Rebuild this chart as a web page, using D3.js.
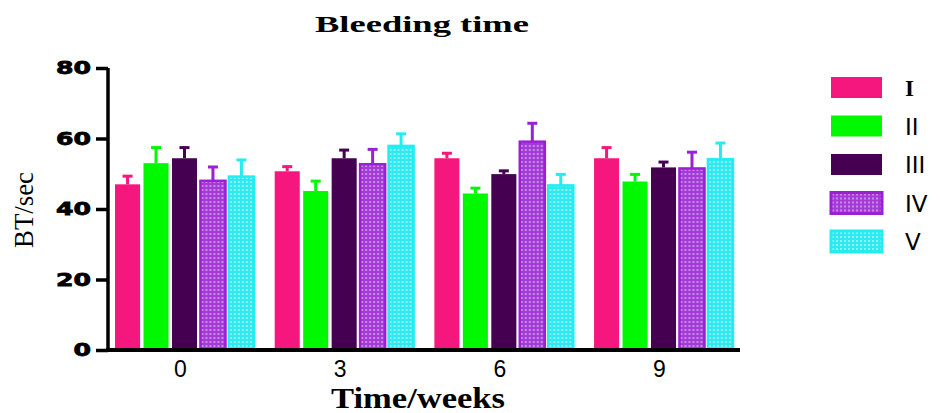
<!DOCTYPE html>
<html>
<head>
<meta charset="utf-8">
<script src="https://d3js.org/d3.v7.min.js"></script>
<style>
  body { margin: 0; background: #fff; }
  svg { display: block; }
</style>
</head>
<body>
<svg width="940" height="413"></svg>
<script>
// data
var weeks = ["0", "3", "6", "9"];
var groups = ["I", "II", "III", "IV", "V"];
var means = {
  "I":   [47.0, 50.7, 54.4, 54.4],
  "II":  [53.0, 45.1, 44.4, 47.8],
  "III": [54.4, 54.4, 49.9, 51.8],
  "IV":  [48.0, 52.7, 59.1, 51.5],
  "V":   [49.2, 57.9, 46.7, 54.1]
};
var errs = {
  "I":   [2.6, 1.6, 1.7, 3.3],
  "II":  [4.7, 3.1, 1.8, 2.3],
  "III": [3.3, 2.6, 1.2, 1.8],
  "IV":  [4.2, 4.5, 5.5, 4.9],
  "V":   [5.0, 3.7, 3.4, 4.9]
};
var yTicks = [0, 20, 40, 60, 80];

var colors = { "I": "#f5177e", "II": "#00f800", "III": "#450052", "IV": "#9c1fd6", "V": "#22eef2" };
var fills = { "I": "#f5177e", "II": "#00f800", "III": "#450052", "IV": "url(#patIV)", "V": "url(#patV)" };

var svg = d3.select("svg");
var defs = svg.append("defs");

function dotPattern(id, base, dot) {
  var p = defs.append("pattern").attr("id", id)
    .attr("patternUnits", "userSpaceOnUse").attr("width", 4).attr("height", 4);
  p.append("rect").attr("width", 4).attr("height", 4).attr("fill", base);
  p.append("rect").attr("x", 1).attr("y", 1).attr("width", 2).attr("height", 2).attr("fill", dot);
}
dotPattern("patIV", "#a43ad8", "#c98ce6");
dotPattern("patV", "#2eeaf0", "#8ef2f6");

var y = d3.scaleLinear().domain([0, 80]).range([350, 68]);
var x0 = d3.scaleBand().domain(weeks).range([108, 740]).paddingInner(0.13).paddingOuter(0.044);
var x1 = d3.scaleBand().domain(groups).range([0, x0.bandwidth()]).paddingInner(0.12);

// bars
var rows = [];
weeks.forEach(function (w, i) {
  groups.forEach(function (g) {
    rows.push({ week: w, group: g, v: means[g][i], e: errs[g][i] });
  });
});

var bar = svg.append("g").selectAll("g").data(rows).join("g")
  .attr("transform", function (d) { return "translate(" + (x0(d.week) + x1(d.group)) + ",0)"; });

// error bars (upper only)
var bw = x1.bandwidth();
bar.append("line")
  .attr("x1", bw / 2).attr("x2", bw / 2)
  .attr("y1", function (d) { return y(d.v); })
  .attr("y2", function (d) { return y(d.v + d.e); })
  .attr("stroke", function (d) { return colors[d.group]; })
  .attr("stroke-width", 3);
bar.append("line")
  .attr("x1", bw / 2 - 5).attr("x2", bw / 2 + 5)
  .attr("y1", function (d) { return y(d.v + d.e) + 1; })
  .attr("y2", function (d) { return y(d.v + d.e) + 1; })
  .attr("stroke", function (d) { return colors[d.group]; })
  .attr("stroke-width", 3);

bar.append("rect")
  .attr("x", 0).attr("width", bw)
  .attr("y", function (d) { return y(d.v); })
  .attr("height", function (d) { return y(0) - y(d.v); })
  .attr("fill", function (d) { return fills[d.group]; })
  .attr("stroke", function (d) { return (d.group == "IV" || d.group == "V") ? colors[d.group] : "none"; })
  .attr("stroke-width", 2.5);

// y axis
var yAxis = svg.append("g").attr("transform", "translate(108,0)")
  .call(d3.axisLeft(y).tickValues(yTicks).tickSize(12).tickPadding(5));
yAxis.select(".domain").attr("stroke-width", 3.5).attr("d", "M0," + y(80) + "V" + (y(0) + 2));
yAxis.selectAll(".tick line").attr("stroke-width", 3.5);
yAxis.selectAll(".tick text")
  .attr("font-family", "'DejaVu Sans', sans-serif").attr("font-weight", "bold")
  .attr("font-size", 18).attr("fill", "#000")
  .attr("stroke", "#000").attr("stroke-width", 0.8)
  .attr("textLength", function (d) { return String(d).length * 17.5; })
  .attr("lengthAdjust", "spacingAndGlyphs");

// x axis
var xAxis = svg.append("g").attr("transform", "translate(0,350)")
  .call(d3.axisBottom(x0).tickSize(0).tickPadding(11));
xAxis.select(".domain").attr("stroke-width", 4).attr("d", "M106,0H740");
xAxis.selectAll(".tick text")
  .attr("font-family", "'Liberation Sans', Arial, sans-serif")
  .attr("font-size", 23).attr("fill", "#000")
  .attr("dx", -4);

// title and axis labels
svg.append("text").attr("x", 422).attr("y", 32).attr("text-anchor", "middle")
  .attr("font-family", "'Liberation Serif', 'Times New Roman', serif").attr("font-weight", "bold")
  .attr("font-size", 23).attr("textLength", 214).attr("lengthAdjust", "spacingAndGlyphs")
  .text("Bleeding time");

svg.append("text").attr("x", 418).attr("y", 408).attr("text-anchor", "middle")
  .attr("font-family", "'Liberation Serif', 'Times New Roman', serif").attr("font-weight", "bold")
  .attr("font-size", 29).attr("textLength", 174).attr("lengthAdjust", "spacingAndGlyphs")
  .text("Time/weeks");

svg.append("text").attr("transform", "translate(33,210) rotate(-90)").attr("text-anchor", "middle")
  .attr("font-family", "'Liberation Serif', 'Times New Roman', serif")
  .attr("font-size", 27).attr("textLength", 76).attr("lengthAdjust", "spacingAndGlyphs")
  .text("BT/sec");

// legend
var legend = svg.append("g").selectAll("g").data(groups).join("g")
  .attr("transform", function (d, i) { return "translate(831," + (77 + i * 38.5) + ")"; });
legend.append("rect")
  .attr("width", 51).attr("height", 21)
  .attr("fill", function (d) { return fills[d]; })
  .attr("stroke", function (d) { return (d == "IV" || d == "V") ? colors[d] : "none"; })
  .attr("stroke-width", 3);
legend.append("text")
  .attr("x", 74).attr("y", 19)
  .attr("font-family", function (d) { return d == "I" ? "'Liberation Serif', serif" : "'DejaVu Sans', sans-serif"; })
  .attr("font-weight", function (d) { return d == "I" ? "bold" : "normal"; })
  .attr("font-size", 23)
  .attr("fill", "#000")
  .text(function (d) { return d; });
</script>
</body>
</html>
